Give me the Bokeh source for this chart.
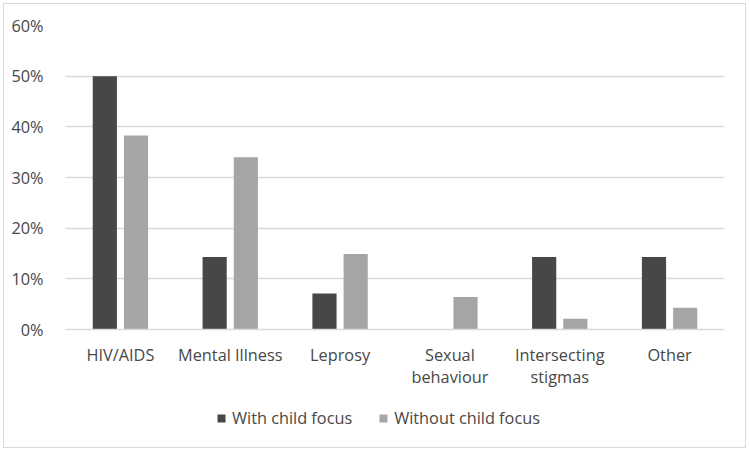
from bokeh.plotting import figure
from bokeh.layouts import column
from bokeh.models import ColumnDataSource, Legend, LegendItem, NumeralTickFormatter, FixedTicker, Range1d
from bokeh.transform import dodge
from bokeh.embed import file_html
from bokeh.resources import INLINE

categories = ["HIV/AIDS", "Mental Illness", "Leprosy", "Sexual\nbehaviour", "Intersecting\nstigmas", "Other"]
with_child = [0.50, 0.143, 0.071, 0.0, 0.143, 0.143]
without_child = [0.383, 0.340, 0.149, 0.064, 0.021, 0.043]
y_ticks = [0, 0.1, 0.2, 0.3, 0.4, 0.5, 0.6]
series_names = ["With child focus", "Without child focus"]
series_colors = ["#474747", "#a5a5a5"]

src = ColumnDataSource(dict(cat=categories, a=with_child, b=without_child))

FONT = "Open Sans"
TXT = "#474747"
FS = "16.3px"

p = figure(x_range=categories, y_range=Range1d(0, 0.6), width=741, height=387,
           output_backend="svg", toolbar_location=None,
           min_border_left=61, min_border_right=21, min_border_top=21, min_border_bottom=62)
p.outline_line_color = None
p.border_fill_color = "white"

r1 = p.vbar(x=dodge("cat", -0.142, range=p.x_range), top="a", width=0.22, source=src,
            fill_color=series_colors[0], line_color=None)
r2 = p.vbar(x=dodge("cat", 0.142, range=p.x_range), top="b", width=0.22, source=src,
            fill_color=series_colors[1], line_color=None)

p.yaxis.ticker = FixedTicker(ticks=y_ticks)
p.yaxis.formatter = NumeralTickFormatter(format="0%")
p.yaxis.axis_line_color = None
p.yaxis.major_tick_line_color = None
p.yaxis.minor_tick_line_color = None
p.yaxis.major_label_text_font = FONT
p.yaxis.major_label_text_font_size = FS
p.yaxis.major_label_text_color = TXT
p.yaxis.major_label_standoff = 16

p.xaxis.axis_line_color = "#d9d9d9"
p.xaxis.axis_line_width = 1.5
p.xaxis.major_tick_line_color = None
p.xaxis.minor_tick_line_color = None
p.xaxis.major_label_text_font = FONT
p.xaxis.major_label_text_font_size = FS
p.xaxis.major_label_text_color = TXT
p.xaxis.major_label_text_line_height = 1.0
p.xaxis.major_label_standoff = 8

p.xgrid.grid_line_color = None
p.ygrid.grid_line_color = "#d9d9d9"
p.ygrid.grid_line_width = 1.5
p.ygrid.ticker = FixedTicker(ticks=y_ticks)

# legend strip (renderers placed outside the visible range; only legend shows)
lf = figure(width=741, height=56, output_backend="svg", toolbar_location=None,
            min_border=0, x_range=Range1d(0, 1), y_range=Range1d(0, 1),
            x_axis_location=None, y_axis_location=None)
lf.grid.visible = False
lf.outline_line_color = None
hidden = ColumnDataSource(dict(x=[-10.0], top=[-10.0]))
lr = [lf.vbar(x="x", top="top", width=0.1, source=hidden, fill_color=c, line_color=None)
      for c in series_colors]
legend = Legend(items=[LegendItem(label=n, renderers=[r]) for n, r in zip(series_names, lr)],
                orientation="horizontal", location=(151, 18),
                glyph_width=10, glyph_height=10, label_standoff=6, spacing=26,
                padding=0, margin=0, border_line_color=None, background_fill_alpha=0,
                label_text_font=FONT, label_text_font_size=FS, label_text_color=TXT)
lf.add_layout(legend, "center")

layout = column(p, lf, spacing=0)
layout.styles = {"border": "1.5px solid #d9d9d9", "margin": "3px"}

html = file_html(layout, INLINE)
open("out.html", "w").write(html)
